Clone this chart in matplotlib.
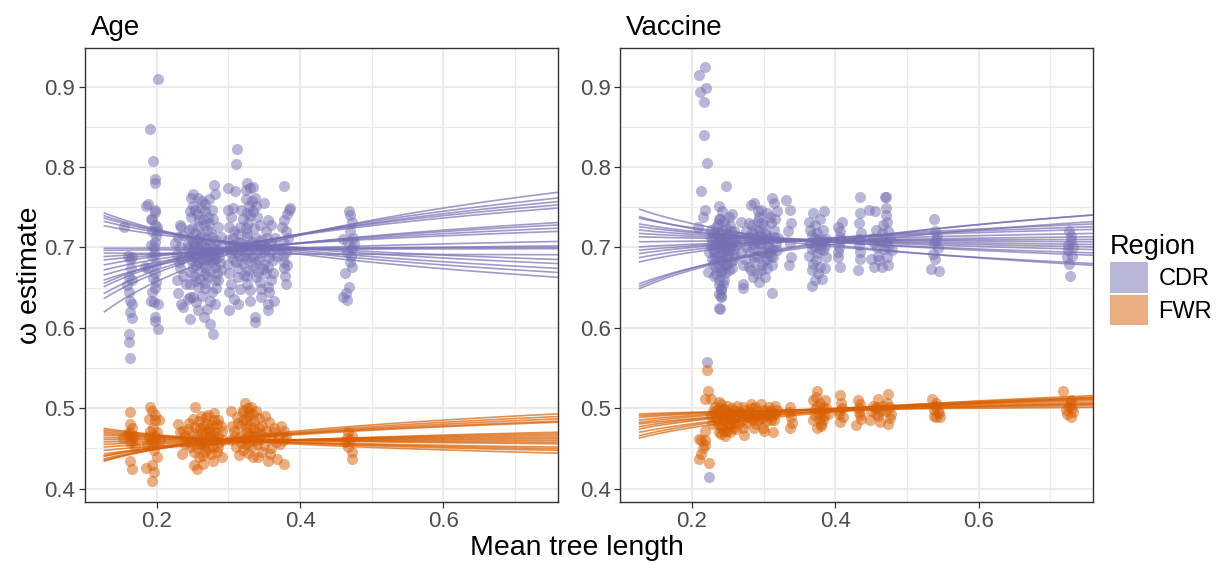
import numpy as np
import matplotlib
matplotlib.use("Agg")
from matplotlib import pyplot as plt
from matplotlib.patches import Patch

plt.rcParams['font.family'] = ['Liberation Sans', 'DejaVu Sans']

# colours (Dark2) for the two regions
cdr_col = "#7570B3"
fwr_col = "#D95F02"

x_range = (0.127, 0.759)

# ---- Age panel points (mean tree length, omega) ----
age_cdr_pts = [
    (0.202, 0.910), (0.191, 0.847), (0.195, 0.807), (0.197, 0.785), (0.198, 0.780), (0.185, 0.751),
    (0.188, 0.754), (0.197, 0.747), (0.198, 0.744), (0.194, 0.736), (0.197, 0.728), (0.200, 0.726),
    (0.194, 0.720), (0.155, 0.726), (0.192, 0.703), (0.197, 0.707), (0.165, 0.688), (0.163, 0.686),
    (0.197, 0.692), (0.199, 0.680), (0.183, 0.676), (0.188, 0.674), (0.161, 0.663), (0.165, 0.659),
    (0.158, 0.653), (0.197, 0.668), (0.199, 0.657), (0.193, 0.645), (0.163, 0.634), (0.165, 0.630),
    (0.192, 0.634), (0.196, 0.632), (0.202, 0.630), (0.163, 0.620), (0.165, 0.612), (0.197, 0.613),
    (0.198, 0.609), (0.202, 0.599), (0.162, 0.593), (0.162, 0.583), (0.163, 0.563),
    (0.160, 0.690), (0.164, 0.675), (0.161, 0.645), (0.196, 0.700), (0.199, 0.714), (0.193, 0.690),
    (0.195, 0.662), (0.198, 0.650), (0.201, 0.720), (0.192, 0.735),
    (0.232, 0.728), (0.234, 0.726), (0.230, 0.713), (0.232, 0.700), (0.228, 0.692), (0.234, 0.686),
    (0.232, 0.674), (0.237, 0.665), (0.230, 0.643), (0.234, 0.630), (0.237, 0.626), (0.246, 0.611),
    (0.241, 0.655), (0.246, 0.638), (0.226, 0.705), (0.231, 0.682), (0.228, 0.660), (0.236, 0.715),
    (0.250, 0.767), (0.257, 0.762), (0.248, 0.761), (0.263, 0.758), (0.268, 0.754), (0.280, 0.778),
    (0.281, 0.766), (0.273, 0.760), (0.250, 0.751), (0.254, 0.747), (0.248, 0.738), (0.268, 0.745),
    (0.277, 0.747), (0.279, 0.736), (0.259, 0.734), (0.266, 0.728), (0.273, 0.730), (0.245, 0.722),
    (0.254, 0.718), (0.261, 0.713), (0.270, 0.722), (0.277, 0.713), (0.250, 0.707), (0.243, 0.699),
    (0.250, 0.697), (0.257, 0.701), (0.263, 0.695), (0.270, 0.699), (0.277, 0.693), (0.284, 0.697),
    (0.290, 0.701), (0.259, 0.688), (0.266, 0.684), (0.272, 0.686), (0.279, 0.682), (0.248, 0.684),
    (0.255, 0.678), (0.268, 0.676), (0.281, 0.676), (0.252, 0.665), (0.261, 0.661), (0.272, 0.663),
    (0.281, 0.659), (0.246, 0.655), (0.257, 0.651), (0.268, 0.649), (0.277, 0.645), (0.286, 0.659),
    (0.250, 0.638), (0.263, 0.640), (0.275, 0.634), (0.281, 0.630), (0.243, 0.636), (0.255, 0.632),
    (0.270, 0.624), (0.266, 0.613), (0.275, 0.605), (0.279, 0.592), (0.257, 0.622), (0.262, 0.705),
    (0.275, 0.704), (0.287, 0.688), (0.245, 0.690), (0.265, 0.692), (0.280, 0.690),
    (0.244, 0.705), (0.248, 0.712), (0.252, 0.702), (0.256, 0.709), (0.259, 0.697), (0.262, 0.715),
    (0.266, 0.703), (0.269, 0.710), (0.272, 0.695), (0.276, 0.718), (0.279, 0.700), (0.283, 0.708),
    (0.286, 0.695), (0.289, 0.713), (0.247, 0.693), (0.253, 0.688), (0.258, 0.682), (0.264, 0.679),
    (0.271, 0.690), (0.276, 0.684), (0.282, 0.686), (0.288, 0.681), (0.251, 0.676), (0.261, 0.671),
    (0.267, 0.667), (0.274, 0.671), (0.284, 0.668), (0.249, 0.724), (0.258, 0.727), (0.265, 0.735),
    (0.271, 0.738), (0.285, 0.725), (0.256, 0.742), (0.262, 0.749), (0.246, 0.745), (0.268, 0.656),
    (0.255, 0.658), (0.283, 0.650), (0.289, 0.672), (0.246, 0.670),
    (0.312, 0.822), (0.310, 0.804), (0.300, 0.774), (0.309, 0.770), (0.326, 0.780), (0.330, 0.774),
    (0.324, 0.772), (0.334, 0.775), (0.378, 0.776), (0.350, 0.755), (0.337, 0.761), (0.339, 0.751),
    (0.299, 0.747), (0.306, 0.749), (0.304, 0.738), (0.317, 0.747), (0.326, 0.743), (0.335, 0.745),
    (0.321, 0.736), (0.386, 0.749), (0.384, 0.747), (0.355, 0.734), (0.359, 0.728), (0.377, 0.734),
    (0.301, 0.726), (0.308, 0.720), (0.324, 0.724), (0.375, 0.726), (0.380, 0.720), (0.299, 0.709),
    (0.306, 0.703), (0.313, 0.707), (0.326, 0.713), (0.333, 0.707), (0.339, 0.703), (0.346, 0.709),
    (0.353, 0.701), (0.359, 0.705), (0.366, 0.699), (0.304, 0.693), (0.317, 0.697), (0.330, 0.697),
    (0.344, 0.693), (0.357, 0.688), (0.324, 0.686), (0.337, 0.682), (0.350, 0.680), (0.310, 0.682),
    (0.299, 0.680), (0.377, 0.682), (0.382, 0.678), (0.378, 0.674), (0.301, 0.668), (0.313, 0.663),
    (0.326, 0.665), (0.339, 0.663), (0.353, 0.668), (0.359, 0.659), (0.304, 0.655), (0.326, 0.655),
    (0.344, 0.657), (0.355, 0.651), (0.380, 0.655), (0.301, 0.645), (0.330, 0.647), (0.357, 0.645),
    (0.308, 0.636), (0.346, 0.638), (0.330, 0.634), (0.364, 0.634), (0.313, 0.630), (0.355, 0.630),
    (0.301, 0.622), (0.355, 0.622), (0.337, 0.613), (0.337, 0.607), (0.320, 0.700), (0.335, 0.690),
    (0.345, 0.698), (0.315, 0.690), (0.328, 0.703),
    (0.302, 0.700), (0.306, 0.712), (0.310, 0.695), (0.314, 0.717), (0.318, 0.705), (0.322, 0.690),
    (0.326, 0.718), (0.330, 0.688), (0.334, 0.700), (0.338, 0.712), (0.342, 0.685), (0.346, 0.703),
    (0.350, 0.694), (0.354, 0.712), (0.358, 0.696), (0.362, 0.684), (0.306, 0.686), (0.313, 0.675),
    (0.320, 0.680), (0.327, 0.672), (0.334, 0.676), (0.341, 0.670), (0.348, 0.673), (0.355, 0.676),
    (0.362, 0.668), (0.316, 0.726), (0.328, 0.730), (0.336, 0.724), (0.344, 0.728), (0.352, 0.720),
    (0.324, 0.760), (0.329, 0.752), (0.333, 0.758), (0.322, 0.666), (0.345, 0.648), (0.316, 0.648),
    (0.365, 0.712), (0.368, 0.690), (0.330, 0.740), (0.340, 0.738),
    (0.378, 0.705), (0.381, 0.695), (0.376, 0.690), (0.383, 0.712), (0.379, 0.665), (0.382, 0.742),
    (0.468, 0.745), (0.469, 0.740), (0.472, 0.732), (0.460, 0.711), (0.475, 0.705), (0.472, 0.699),
    (0.467, 0.707), (0.469, 0.682), (0.473, 0.676), (0.462, 0.668), (0.468, 0.651), (0.464, 0.643),
    (0.460, 0.638), (0.465, 0.635), (0.470, 0.720), (0.466, 0.695), (0.474, 0.712), (0.471, 0.690),
]
age_fwr_pts = [
    (0.163, 0.495), (0.163, 0.481), (0.166, 0.476), (0.160, 0.468), (0.166, 0.464), (0.163, 0.458),
    (0.170, 0.452), (0.163, 0.435), (0.166, 0.425), (0.185, 0.426), (0.191, 0.502), (0.194, 0.497),
    (0.189, 0.487), (0.197, 0.486), (0.203, 0.485), (0.191, 0.472), (0.197, 0.466), (0.204, 0.460),
    (0.187, 0.454), (0.196, 0.448), (0.200, 0.439), (0.194, 0.429), (0.196, 0.421), (0.194, 0.410),
    (0.153, 0.463), (0.161, 0.470), (0.165, 0.459), (0.168, 0.466), (0.192, 0.462), (0.198, 0.458),
    (0.195, 0.476), (0.200, 0.470), (0.189, 0.466), (0.198, 0.492), (0.194, 0.455),
    (0.230, 0.481), (0.237, 0.472), (0.243, 0.462), (0.254, 0.501), (0.247, 0.452), (0.235, 0.443),
    (0.252, 0.429), (0.256, 0.425), (0.265, 0.441), (0.269, 0.489), (0.273, 0.476), (0.278, 0.468),
    (0.282, 0.460), (0.286, 0.452), (0.260, 0.456), (0.266, 0.464), (0.280, 0.485), (0.291, 0.439),
    (0.278, 0.435), (0.265, 0.431), (0.256, 0.466), (0.263, 0.470), (0.272, 0.462), (0.275, 0.472),
    (0.286, 0.466), (0.260, 0.476), (0.269, 0.458), (0.278, 0.452), (0.291, 0.472), (0.256, 0.450),
    (0.240, 0.466), (0.244, 0.474), (0.248, 0.458), (0.251, 0.469), (0.254, 0.477), (0.257, 0.460),
    (0.259, 0.484), (0.262, 0.455), (0.264, 0.478), (0.267, 0.470), (0.270, 0.481), (0.271, 0.450),
    (0.274, 0.466), (0.277, 0.479), (0.279, 0.460), (0.282, 0.470), (0.284, 0.480), (0.287, 0.458),
    (0.289, 0.478), (0.252, 0.445), (0.259, 0.440), (0.268, 0.445), (0.276, 0.443), (0.284, 0.446),
    (0.250, 0.487), (0.262, 0.491), (0.272, 0.492), (0.280, 0.494), (0.239, 0.456), (0.245, 0.482),
    (0.233, 0.470), (0.266, 0.453), (0.286, 0.486), (0.292, 0.460),
    (0.303, 0.497), (0.323, 0.507), (0.312, 0.489), (0.321, 0.495), (0.334, 0.493), (0.325, 0.485),
    (0.351, 0.491), (0.342, 0.476), (0.308, 0.472), (0.316, 0.464), (0.329, 0.468), (0.338, 0.460),
    (0.351, 0.464), (0.364, 0.476), (0.377, 0.472), (0.381, 0.464), (0.372, 0.456), (0.360, 0.450),
    (0.347, 0.446), (0.334, 0.439), (0.321, 0.448), (0.310, 0.452), (0.355, 0.435), (0.377, 0.431),
    (0.368, 0.437), (0.329, 0.458), (0.303, 0.460), (0.325, 0.470), (0.335, 0.475), (0.345, 0.468),
    (0.318, 0.478), (0.330, 0.480), (0.340, 0.455),
    (0.305, 0.478), (0.309, 0.465), (0.313, 0.482), (0.317, 0.457), (0.320, 0.486), (0.323, 0.462),
    (0.326, 0.476), (0.328, 0.490), (0.331, 0.466), (0.333, 0.452), (0.336, 0.484), (0.339, 0.470),
    (0.342, 0.488), (0.344, 0.462), (0.347, 0.478), (0.350, 0.454), (0.353, 0.472), (0.356, 0.483),
    (0.359, 0.463), (0.362, 0.470), (0.366, 0.458), (0.370, 0.466), (0.374, 0.478), (0.378, 0.460),
    (0.320, 0.498), (0.327, 0.500), (0.332, 0.502), (0.338, 0.496), (0.315, 0.442), (0.327, 0.444),
    (0.341, 0.440), (0.358, 0.443), (0.329, 0.495), (0.336, 0.466), (0.324, 0.456),
    (0.467, 0.470), (0.472, 0.466), (0.463, 0.458), (0.467, 0.452), (0.472, 0.446), (0.473, 0.437),
    (0.470, 0.460), (0.466, 0.463),
]

# ---- Vaccine panel points ----
vac_cdr_pts = [
    (0.210, 0.914), (0.218, 0.925), (0.211, 0.894), (0.219, 0.898), (0.217, 0.881), (0.217, 0.840),
    (0.221, 0.805), (0.212, 0.770), (0.247, 0.777), (0.218, 0.747), (0.215, 0.738), (0.221, 0.558),
    (0.224, 0.415),
    (0.238, 0.751), (0.242, 0.745), (0.256, 0.742), (0.237, 0.736), (0.209, 0.726), (0.227, 0.722),
    (0.233, 0.726), (0.240, 0.717), (0.247, 0.724), (0.253, 0.728), (0.258, 0.720), (0.229, 0.713),
    (0.238, 0.709), (0.245, 0.713), (0.251, 0.707), (0.260, 0.711), (0.227, 0.703), (0.236, 0.699),
    (0.243, 0.703), (0.253, 0.697), (0.231, 0.694), (0.240, 0.692), (0.249, 0.694), (0.258, 0.686),
    (0.229, 0.680), (0.238, 0.676), (0.247, 0.678), (0.256, 0.674), (0.222, 0.670), (0.233, 0.667),
    (0.242, 0.672), (0.238, 0.653), (0.241, 0.647), (0.237, 0.642), (0.240, 0.638), (0.238, 0.625),
    (0.240, 0.648), (0.243, 0.654), (0.240, 0.640), (0.239, 0.624), (0.269, 0.732), (0.265, 0.713),
    (0.269, 0.694), (0.271, 0.678), (0.235, 0.705), (0.245, 0.698), (0.250, 0.688), (0.232, 0.688),
    (0.255, 0.702), (0.243, 0.683),
    (0.226, 0.712), (0.229, 0.698), (0.231, 0.718), (0.233, 0.704), (0.235, 0.690), (0.237, 0.711),
    (0.239, 0.700), (0.241, 0.684), (0.242, 0.722), (0.244, 0.695), (0.246, 0.707), (0.248, 0.688),
    (0.250, 0.716), (0.252, 0.700), (0.254, 0.682), (0.256, 0.712), (0.258, 0.698), (0.260, 0.690),
    (0.234, 0.676), (0.240, 0.670), (0.246, 0.668), (0.252, 0.672), (0.236, 0.729), (0.244, 0.733),
    (0.251, 0.738), (0.228, 0.686), (0.230, 0.664), (0.237, 0.660), (0.245, 0.660), (0.255, 0.720),
    (0.224, 0.695), (0.239, 0.736), (0.249, 0.680), (0.262, 0.703), (0.241, 0.708),
    (0.282, 0.753), (0.287, 0.755), (0.296, 0.747), (0.294, 0.738), (0.280, 0.730), (0.289, 0.722),
    (0.298, 0.730), (0.305, 0.743), (0.311, 0.761), (0.314, 0.755), (0.309, 0.738), (0.316, 0.736),
    (0.280, 0.713), (0.291, 0.709), (0.303, 0.715), (0.314, 0.713), (0.285, 0.699), (0.296, 0.695),
    (0.307, 0.701), (0.318, 0.697), (0.274, 0.686), (0.287, 0.682), (0.300, 0.684), (0.311, 0.678),
    (0.271, 0.655), (0.285, 0.663), (0.294, 0.657), (0.296, 0.672), (0.305, 0.674), (0.311, 0.644),
    (0.271, 0.649), (0.307, 0.693), (0.282, 0.672), (0.331, 0.759), (0.336, 0.747), (0.338, 0.730),
    (0.334, 0.720), (0.336, 0.705), (0.338, 0.688), (0.335, 0.678), (0.290, 0.705), (0.300, 0.710),
    (0.310, 0.690), (0.295, 0.715),
    (0.275, 0.700), (0.278, 0.712), (0.281, 0.695), (0.284, 0.718), (0.287, 0.704), (0.290, 0.690),
    (0.293, 0.720), (0.296, 0.706), (0.299, 0.694), (0.302, 0.718), (0.305, 0.703), (0.308, 0.712),
    (0.311, 0.698), (0.314, 0.722), (0.317, 0.705), (0.320, 0.712), (0.283, 0.728), (0.292, 0.733),
    (0.301, 0.728), (0.310, 0.730), (0.286, 0.688), (0.298, 0.678), (0.304, 0.686), (0.313, 0.688),
    (0.279, 0.676), (0.291, 0.668), (0.302, 0.663), (0.276, 0.720), (0.318, 0.745), (0.292, 0.745),
    (0.369, 0.743), (0.384, 0.745), (0.363, 0.732), (0.372, 0.728), (0.383, 0.722), (0.367, 0.715),
    (0.376, 0.709), (0.387, 0.711), (0.363, 0.690), (0.374, 0.693), (0.383, 0.697), (0.369, 0.680),
    (0.378, 0.676), (0.387, 0.688), (0.372, 0.659), (0.367, 0.652), (0.381, 0.661), (0.376, 0.668),
    (0.370, 0.702), (0.380, 0.704), (0.364, 0.705), (0.367, 0.698), (0.371, 0.712), (0.375, 0.718),
    (0.379, 0.698), (0.382, 0.709), (0.386, 0.702), (0.373, 0.685), (0.385, 0.675), (0.365, 0.722),
    (0.378, 0.735), (0.368, 0.672),
    (0.409, 0.732), (0.403, 0.726), (0.406, 0.713), (0.405, 0.701), (0.403, 0.688), (0.406, 0.676),
    (0.408, 0.709), (0.404, 0.695), (0.407, 0.720),
    (0.435, 0.763), (0.434, 0.743), (0.433, 0.730), (0.436, 0.718), (0.433, 0.703), (0.434, 0.686),
    (0.432, 0.672), (0.433, 0.710), (0.435, 0.695),
    (0.447, 0.747), (0.455, 0.745), (0.469, 0.763), (0.471, 0.763), (0.470, 0.749), (0.470, 0.740),
    (0.472, 0.732), (0.456, 0.722), (0.465, 0.718), (0.474, 0.720), (0.454, 0.705), (0.470, 0.707),
    (0.479, 0.697), (0.450, 0.686), (0.461, 0.684), (0.472, 0.688), (0.465, 0.676), (0.454, 0.676),
    (0.474, 0.678), (0.452, 0.712), (0.458, 0.700), (0.463, 0.708), (0.468, 0.698), (0.473, 0.700),
    (0.476, 0.712), (0.467, 0.728), (0.459, 0.690),
    (0.537, 0.736), (0.539, 0.720), (0.541, 0.709), (0.543, 0.699), (0.539, 0.686), (0.533, 0.673),
    (0.545, 0.671), (0.538, 0.705), (0.542, 0.714), (0.536, 0.692),
    (0.726, 0.720), (0.728, 0.709), (0.724, 0.697), (0.730, 0.690), (0.726, 0.680), (0.727, 0.665),
    (0.725, 0.703), (0.729, 0.714), (0.723, 0.688), (0.731, 0.700),
]
vac_fwr_pts = [
    (0.221, 0.548), (0.222, 0.522), (0.218, 0.512), (0.226, 0.511), (0.210, 0.462), (0.212, 0.460),
    (0.218, 0.460), (0.215, 0.450), (0.218, 0.454), (0.212, 0.443), (0.210, 0.437), (0.224, 0.432),
    (0.218, 0.472),
    (0.232, 0.501), (0.238, 0.493), (0.243, 0.485), (0.240, 0.476), (0.246, 0.466), (0.249, 0.472),
    (0.254, 0.493), (0.260, 0.489), (0.271, 0.501), (0.271, 0.476), (0.272, 0.467), (0.282, 0.493),
    (0.288, 0.501), (0.294, 0.485), (0.299, 0.476), (0.305, 0.497), (0.310, 0.485), (0.313, 0.470),
    (0.316, 0.493), (0.257, 0.476), (0.252, 0.481), (0.235, 0.485), (0.240, 0.505), (0.249, 0.503),
    (0.263, 0.503), (0.282, 0.505), (0.296, 0.505), (0.316, 0.503), (0.238, 0.470), (0.232, 0.495),
    (0.240, 0.497), (0.246, 0.493), (0.252, 0.489), (0.266, 0.495), (0.277, 0.489), (0.285, 0.485),
    (0.302, 0.491), (0.310, 0.497), (0.243, 0.499),
    (0.234, 0.488), (0.236, 0.480), (0.238, 0.500), (0.240, 0.490), (0.242, 0.478), (0.244, 0.492),
    (0.246, 0.484), (0.248, 0.498), (0.250, 0.478), (0.252, 0.495), (0.254, 0.486), (0.256, 0.500),
    (0.258, 0.482), (0.260, 0.496), (0.262, 0.488), (0.264, 0.480), (0.268, 0.494), (0.270, 0.486),
    (0.274, 0.498), (0.276, 0.482), (0.279, 0.495), (0.281, 0.488), (0.284, 0.500), (0.287, 0.490),
    (0.289, 0.481), (0.291, 0.497), (0.293, 0.492), (0.297, 0.488), (0.300, 0.498), (0.303, 0.484),
    (0.306, 0.492), (0.308, 0.502), (0.312, 0.490), (0.315, 0.486), (0.318, 0.498), (0.245, 0.472),
    (0.241, 0.468), (0.253, 0.470), (0.262, 0.474), (0.286, 0.476), (0.300, 0.472), (0.238, 0.508),
    (0.226, 0.490), (0.228, 0.480), (0.229, 0.497),
    (0.336, 0.501), (0.338, 0.489), (0.337, 0.476), (0.335, 0.495), (0.339, 0.482),
    (0.375, 0.522), (0.369, 0.510), (0.372, 0.499), (0.378, 0.493), (0.383, 0.485), (0.369, 0.485),
    (0.375, 0.476), (0.380, 0.481), (0.383, 0.501), (0.389, 0.493), (0.386, 0.510), (0.378, 0.507),
    (0.371, 0.492), (0.374, 0.503), (0.377, 0.487), (0.381, 0.496), (0.384, 0.490), (0.387, 0.500),
    (0.373, 0.514), (0.380, 0.478),
    (0.406, 0.516), (0.408, 0.507), (0.405, 0.497), (0.411, 0.489), (0.406, 0.483), (0.405, 0.493),
    (0.409, 0.500),
    (0.429, 0.479), (0.434, 0.505), (0.433, 0.495), (0.436, 0.487), (0.431, 0.510), (0.433, 0.500),
    (0.435, 0.492),
    (0.448, 0.485), (0.453, 0.503), (0.459, 0.512), (0.456, 0.493), (0.462, 0.483), (0.473, 0.518),
    (0.476, 0.501), (0.470, 0.497), (0.478, 0.493), (0.474, 0.481), (0.464, 0.497), (0.450, 0.496),
    (0.455, 0.500), (0.460, 0.490), (0.467, 0.503), (0.472, 0.506), (0.476, 0.488), (0.458, 0.502),
    (0.535, 0.512), (0.539, 0.503), (0.543, 0.497), (0.540, 0.489), (0.537, 0.491), (0.546, 0.489),
    (0.538, 0.498), (0.541, 0.506), (0.544, 0.494),
    (0.718, 0.522), (0.729, 0.510), (0.726, 0.501), (0.731, 0.495), (0.723, 0.493), (0.729, 0.489),
    (0.727, 0.505), (0.722, 0.498), (0.730, 0.500),
]

# ---- fitted lines: omega at left / right edge of the x range (fit on log tree length) ----
age_cdr_fit = [
    (0.743, 0.663), (0.7395, 0.669), (0.7366, 0.674), (0.7324, 0.680), (0.727, 0.685),
    (0.699, 0.700), (0.6965, 0.6985), (0.693, 0.691), (0.6888, 0.702), (0.6846, 0.7075),
    (0.6784, 0.720), (0.6721, 0.724), (0.6659, 0.728), (0.6596, 0.731), (0.6555, 0.749),
    (0.6514, 0.753), (0.643, 0.757), (0.6368, 0.7615), (0.620, 0.7686),
]
age_fwr_fit = [
    (0.4749, 0.4442), (0.4728, 0.4475), (0.4707, 0.4496), (0.4686, 0.4517), (0.4665, 0.4558),
    (0.4636, 0.4578), (0.4611, 0.4599), (0.4582, 0.462), (0.4552, 0.464), (0.4519, 0.4661),
    (0.4477, 0.4682), (0.4435, 0.4702), (0.441, 0.4839), (0.4402, 0.4826), (0.4372, 0.4868),
    (0.4355, 0.4897), (0.4343, 0.493),
]
vac_cdr_fit = [
    (0.7475, 0.6779), (0.7383, 0.680), (0.7363, 0.6904), (0.7292, 0.6933), (0.7258, 0.6975),
    (0.7217, 0.7008), (0.7175, 0.7038), (0.7133, 0.7071), (0.7071, 0.710), (0.7008, 0.7133),
    (0.6967, 0.7175), (0.6925, 0.7225), (0.6875, 0.7258), (0.6821, 0.7292), (0.655, 0.7321),
    (0.6517, 0.7404), (0.6488, 0.7404),
]
vac_fwr_fit = [
    (0.493, 0.5012), (0.4909, 0.5033), (0.4888, 0.5054), (0.4855, 0.5074), (0.4826, 0.5095),
    (0.4806, 0.5054), (0.4773, 0.5116), (0.4744, 0.5136), (0.4702, 0.5116), (0.4661, 0.5157),
    (0.4632, 0.5136),
]

panels = [
    ("Age", age_cdr_pts, age_fwr_pts, age_cdr_fit, age_fwr_fit),
    ("Vaccine", vac_cdr_pts, vac_fwr_pts, vac_cdr_fit, vac_fwr_fit),
]

W, H = 1217, 562
fig = plt.figure(figsize=(W / 100, H / 100), dpi=100)

ax_left_px = [85, 620.3]
ax_w, ax_top, ax_bot = 472.5, 47.7, 501.7

xs = np.linspace(x_range[0], x_range[1], 200)
lx0, lx1 = np.log(x_range[0]), np.log(x_range[1])

for (title, cdr, fwr, cdr_fit, fwr_fit), left in zip(panels, ax_left_px):
    ax = fig.add_axes([left / W, 1 - ax_bot / H, ax_w / W, (ax_bot - ax_top) / H])
    for pts, fits, col in [(cdr, cdr_fit, cdr_col), (fwr, fwr_fit, fwr_col)]:
        pts = np.array(pts)
        ax.scatter(pts[:, 0], pts[:, 1], s=64, color=col, alpha=0.5, linewidths=0, zorder=3)
        for yl, yr in fits:
            t = (np.log(xs) - lx0) / (lx1 - lx0)
            ax.plot(xs, yl + (yr - yl) * t, color=col, lw=1.2, alpha=0.7, zorder=4)

    ax.set_xlim(*x_range)
    ax.set_ylim(0.3838, 0.9485)
    ax.set_xticks([0.2, 0.4, 0.6])
    ax.set_xticks([0.1, 0.3, 0.5, 0.7], minor=True)
    ax.set_yticks([0.4, 0.5, 0.6, 0.7, 0.8, 0.9])
    ax.set_yticks([0.45, 0.55, 0.65, 0.75, 0.85], minor=True)
    ax.grid(True, which='major', color='#EBEBEB', lw=1.5, zorder=0)
    ax.grid(True, which='minor', color='#EBEBEB', lw=0.8, zorder=0)
    ax.set_axisbelow(True)
    ax.tick_params(which='major', length=4, width=0.9, color='#333333',
                   labelsize=16, labelcolor='#4D4D4D', pad=3)
    ax.tick_params(which='minor', length=0)
    for sp in ax.spines.values():
        sp.set_color('#333333')
        sp.set_linewidth(1.0)
    ax.set_title(title, loc='left', fontsize=20, pad=9, x=0.012)

fig.text(577 / W, 1 - 555 / H, "Mean tree length", fontsize=20.5, ha='center', va='baseline')
fig.text(30 / W, 1 - 275 / H, "ω estimate", fontsize=20.5, rotation=90, ha='center', va='center')

handles = [Patch(facecolor=cdr_col, alpha=0.5, edgecolor='none', label='CDR'),
           Patch(facecolor=fwr_col, alpha=0.5, edgecolor='none', label='FWR')]
fig.legend(handles=handles, title='Region', loc='upper left', bbox_to_anchor=(1110 / W, 1 - 234 / H),
           frameon=False, fontsize=17, title_fontsize=19.5, handlelength=1.6, handleheight=1.6,
           handletextpad=0.45, labelspacing=0.1, borderpad=0, borderaxespad=0, alignment='left')

fig.savefig("out.png", dpi=100)
